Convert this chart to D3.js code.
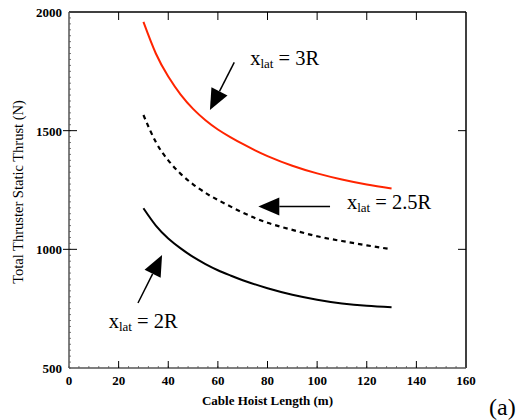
<!DOCTYPE html>
<html>
<head>
<meta charset="utf-8">
<script src="https://cdn.jsdelivr.net/npm/d3@7"></script>
<style>
  body { margin: 0; background: #fff; }
  text { font-family: "Liberation Serif", "Times New Roman", serif; }
</style>
</head>
<body>
<div id="chart"></div>
<script>
// values: [cable hoist length (m), thrust (N)]
const xlat3R = [[30,1958],[35,1825],[40,1728],[45,1652],[50,1592],[55,1544],[60,1505],[65,1473],
  [70,1444],[75,1417],[80,1393],[90,1352],[100,1320],[110,1294],[120,1273],[130,1256]];
const xlat25R = [[30,1566],[35,1452],[40,1375],[45,1318],[50,1274],[55,1238],[60,1208],[70,1155],
  [80,1112],[90,1082],[100,1055],[110,1035],[120,1017],[130,1000]];
const xlat2R = [[30,1173],[35,1100],[40,1046],[45,1004],[50,968],[55,938],[60,912],[65,890],
  [70,870],[80,836],[90,809],[100,788],[110,772],[120,762],[130,756]];

const xTicks = [0, 20, 40, 60, 80, 100, 120, 140, 160];
const yTicks = [500, 1000, 1500, 2000];

// annotation arrows: from -> tip, in data units, and label
const notes = [
  { label: "3R",   from: [66.6, 1788], tip: [56.8, 1587], text: [73, 1777] },
  { label: "2.5R", from: [105.2, 1180], tip: [76.3, 1180], text: [112, 1170] },
  { label: "2R",   from: [27.8, 774],  tip: [37.5, 976],  text: [16, 669] }
];

const width = 518, height = 420;
const margin = { top: 12, right: 52, bottom: 52, left: 69 };

const svg = d3.select("#chart").append("svg")
  .attr("width", width)
  .attr("height", height);

const x = d3.scaleLinear().domain([0, 160]).range([margin.left, width - margin.right]);
const y = d3.scaleLinear().domain([500, 2000]).range([height - margin.bottom, margin.top]);

const x0 = x(0), x1 = x(160), y0 = y(500), y1 = y(2000);

// minor ticks (the dotted look of the left / bottom axes)
svg.append("g").selectAll("line").data(d3.range(500, 2000, 25))
  .join("line")
  .attr("x1", x0).attr("x2", x0 + 2)
  .attr("y1", d => y(d)).attr("y2", d => y(d))
  .attr("stroke", "#777").attr("stroke-width", 1);
svg.append("g").selectAll("line").data(d3.range(0, 160, 4))
  .join("line")
  .attr("x1", d => x(d)).attr("x2", d => x(d))
  .attr("y1", y0).attr("y2", y0 - 2)
  .attr("stroke", "#777").attr("stroke-width", 1);

// frame
svg.append("line").attr("x1", x0).attr("x2", x1).attr("y1", y1).attr("y2", y1)
  .attr("stroke", "#000").attr("stroke-width", 1.5);
svg.append("line").attr("x1", x1).attr("x2", x1).attr("y1", y1).attr("y2", y0)
  .attr("stroke", "#000").attr("stroke-width", 1.5);
svg.append("line").attr("x1", x0).attr("x2", x0).attr("y1", y1).attr("y2", y0)
  .attr("stroke", "#555").attr("stroke-width", 1.5);
svg.append("line").attr("x1", x0).attr("x2", x1).attr("y1", y0).attr("y2", y0)
  .attr("stroke", "#555").attr("stroke-width", 1.5);

// major ticks
const inner = xTicks.slice(1, -1);
svg.append("g").selectAll("line").data(inner).join("line")
  .attr("x1", d => x(d)).attr("x2", d => x(d))
  .attr("y1", y0).attr("y2", y0 - 7)
  .attr("stroke", "#000").attr("stroke-width", 1);
svg.append("g").selectAll("line").data(inner).join("line")
  .attr("x1", d => x(d)).attr("x2", d => x(d))
  .attr("y1", y1).attr("y2", y1 + 8)
  .attr("stroke", "#000").attr("stroke-width", 1);
const innerY = yTicks.slice(1, -1);
svg.append("g").selectAll("line").data(innerY).join("line")
  .attr("x1", x0 - 6).attr("x2", x0 + 8)
  .attr("y1", d => y(d)).attr("y2", d => y(d))
  .attr("stroke", "#000").attr("stroke-width", 1);
svg.append("g").selectAll("line").data(innerY).join("line")
  .attr("x1", x1).attr("x2", x1 - 8)
  .attr("y1", d => y(d)).attr("y2", d => y(d))
  .attr("stroke", "#000").attr("stroke-width", 1);

// tick labels
svg.append("g").selectAll("text").data(xTicks).join("text")
  .attr("x", d => x(d)).attr("y", y0 + 17)
  .attr("text-anchor", "middle")
  .attr("font-size", 13).attr("font-weight", "bold")
  .text(d => d);
svg.append("g").selectAll("text").data(yTicks).join("text")
  .attr("x", x0 - 7).attr("y", d => y(d) + 5)
  .attr("text-anchor", "end")
  .attr("font-size", 13).attr("font-weight", "bold")
  .text(d => d);

// axis titles
svg.append("text")
  .attr("x", (x0 + x1) / 2).attr("y", y0 + 37)
  .attr("text-anchor", "middle")
  .attr("font-size", 13).attr("font-weight", "bold")
  .text("Cable Hoist Length (m)");
svg.append("text")
  .attr("transform", `translate(23, ${(y0 + y1) / 2 + 2}) rotate(-90)`)
  .attr("text-anchor", "middle")
  .attr("font-size", 14.5)
  .text("Total Thruster Static Thrust (N)");
svg.append("text")
  .attr("x", 489).attr("y", 415)
  .attr("font-size", 24)
  .text("(a)");

// curves
const line = d3.line().x(d => x(d[0])).y(d => y(d[1])).curve(d3.curveNatural);
svg.append("path").datum(xlat3R)
  .attr("d", line).attr("fill", "none")
  .attr("stroke", "#ff2400").attr("stroke-width", 2);
svg.append("path").datum(xlat25R)
  .attr("d", line).attr("fill", "none")
  .attr("stroke", "#000").attr("stroke-width", 2.2)
  .attr("stroke-dasharray", "4.5,4");
svg.append("path").datum(xlat2R)
  .attr("d", line).attr("fill", "none")
  .attr("stroke", "#000").attr("stroke-width", 2);

// annotations
const ann = svg.append("g").selectAll("g").data(notes).join("g");
ann.each(function (n) {
  const g = d3.select(this);
  const fx = x(n.from[0]), fy = y(n.from[1]);
  const tx = x(n.tip[0]), ty = y(n.tip[1]);
  const dx = tx - fx, dy = ty - fy, len = Math.hypot(dx, dy);
  const ux = dx / len, uy = dy / len;
  const head = 21, half = 9;
  const bx = tx - ux * head, by = ty - uy * head;
  g.append("line")
    .attr("x1", fx).attr("y1", fy).attr("x2", bx).attr("y2", by)
    .attr("stroke", "#000").attr("stroke-width", 1.5);
  g.append("path")
    .attr("d", `M${tx},${ty}L${bx - uy * half},${by + ux * half}L${bx + uy * half},${by - ux * half}Z`)
    .attr("fill", "#000");
  const t = g.append("text")
    .attr("x", x(n.text[0])).attr("y", y(n.text[1]))
    .attr("font-size", 20.5);
  t.append("tspan").text("x");
  t.append("tspan").attr("font-size", 13).attr("dy", 3).text("lat");
  t.append("tspan").attr("dy", -3).text(" = " + n.label);
});
</script>
</body>
</html>
